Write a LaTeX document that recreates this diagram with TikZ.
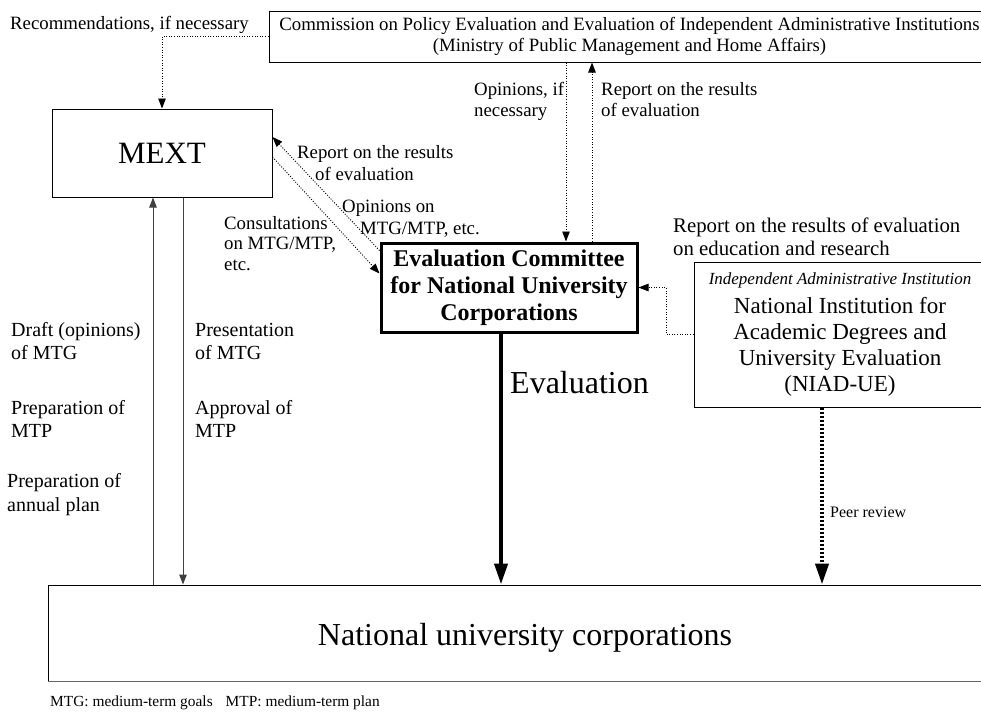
\documentclass[tikz,border=0pt]{standalone}
\usepackage{fontspec}
\setmainfont{Liberation Serif}
\usetikzlibrary{arrows.meta,calc}
\begin{document}
\begin{tikzpicture}[x=1pt,y=-1pt,
  lbl/.style={font=\fontsize{18.8}{21.5}\selectfont, inner sep=0, align=left, anchor=base west},
  sidelbl/.style={lbl, font=\fontsize{20}{23}\selectfont},
  box/.style={draw, line width=1pt, inner sep=0, align=center},
  dotline/.style={line width=0.9pt, dash pattern=on 1pt off 1.6pt},
  tip/.style={-{Triangle[length=10pt,width=7.5pt]}},
  bigtip/.style={-{Triangle[length=21pt,width=13pt]}},
  thinline/.style={line width=1pt, black!75},
]
\useasboundingbox (0,0) rectangle (981,713);
\clip (0,0) rectangle (981,713);

% boxes
\node[box, minimum width=721pt, minimum height=51pt, font=\fontsize{18.8}{21}\selectfont] (comm) at (629.5,36.5)
  {Commission on Policy Evaluation and Evaluation of Independent Administrative Institutions\\(Ministry of Public Management and Home Affairs)};
\node[box, minimum width=220pt, minimum height=88pt, font=\fontsize{31}{36}\selectfont] (mext) at (162,153) {MEXT};
\node[box, line width=3pt, minimum width=256pt, minimum height=89pt, font=\fontsize{24}{27}\selectfont\bfseries] (cmt) at (509,287.5)
  {Evaluation Committee\\for National University\\Corporations};
\node[box, minimum width=292pt, minimum height=145pt, font=\fontsize{23}{26}\selectfont] (niad) at (840,334.5)
  {{\fontsize{17}{20}\selectfont\itshape Independent Administrative Institution}\\[3pt]National Institution for\\Academic Degrees and\\University Evaluation\\(NIAD-UE)};
\node[box, minimum width=954pt, minimum height=96pt, font=\fontsize{32}{36}\selectfont, text height=24pt, text depth=0pt] (bot) at (525,633) {National university corporations};
\draw[black!60, line width=1.8pt] (bot.south west) -- (bot.south east);

% labels (anchor = baseline of the last line)
\node[lbl] (lrec) at (10,29) {Recommendations, if necessary};
\node[lbl] (lopn) at (474,116.5) {Opinions, if\\necessary};
\node[lbl] (lrep) at (601,116.5) {Report on the results\\of evaluation};
\node[lbl] (lrep2) at (297,180) {Report on the results\\\hspace*{18pt}of evaluation};
\node[lbl] (lopm) at (342,234) {Opinions on\\\hspace*{18pt}MTG/MTP, etc.};
\node[lbl, font=\fontsize{18.8}{20.5}\selectfont] (lcon) at (224,270) {Consultations\\on MTG/MTP,\\etc.};
\node[lbl, font=\fontsize{20.8}{22.5}\selectfont] (lrep3) at (673,255) {Report on the results of evaluation\\on education and research};
\node[sidelbl] (ldraft) at (11,359) {Draft (opinions)\\of MTG};
\node[sidelbl] (lprep) at (11,437) {Preparation of\\MTP};
\node[sidelbl, font=\fontsize{20}{24}\selectfont] (lannual) at (7,511) {Preparation of\\annual plan};
\node[sidelbl] (lpres) at (195,359) {Presentation\\of MTG};
\node[sidelbl] (lappr) at (195,437) {Approval of\\MTP};
\node[lbl, font=\fontsize{32}{36}\selectfont] (leval) at (510,393) {Evaluation};
\node[lbl, font=\fontsize{16}{18}\selectfont] (lpeer) at (830,517) {Peer review};
\node[lbl, font=\fontsize{15.4}{17}\selectfont] (lfoot) at (50,706) {MTG: medium-term goals\hspace{13pt}MTP: medium-term plan};

% coordinates
\coordinate (u1) at ($(mext.south)+(-9,0)$);
\coordinate (d1) at ($(mext.south)+(21,0)$);
\coordinate (v1) at (566,0);
\coordinate (v2) at (592,0);
\coordinate (k) at (666,0);
\coordinate (ev) at (501,0);
\coordinate (pr) at (822,0);

% connectors
\draw[dotline, tip] (comm.west) -| (mext.north);
\draw[thinline, tip] (u1 |- bot.north) -- (u1);
\draw[thinline, tip] (d1) -- (d1 |- bot.north);
\draw[dotline, tip] ($(cmt.north west)+(0,9)$) -- ($(mext.east)+(0,-16)$);
\draw[dotline, tip] ($(mext.east)+(0,4)$) -- ($(cmt.west)+(0,-14)$);
\draw[dotline, tip] (v1 |- comm.south) -- (v1 |- cmt.north);
\draw[dotline, tip] (v2 |- cmt.north) -- (v2 |- comm.south);
\draw[dotline, tip] (niad.west) -- (k |- niad.west) |- (cmt.east);
\draw[line width=4pt, bigtip] (ev |- cmt.south) -- (ev |- bot.north);
\draw[line width=4pt, dash pattern=on 2.5pt off 1.5pt, bigtip] (pr |- niad.south) -- (pr |- bot.north);
\end{tikzpicture}
\end{document}
